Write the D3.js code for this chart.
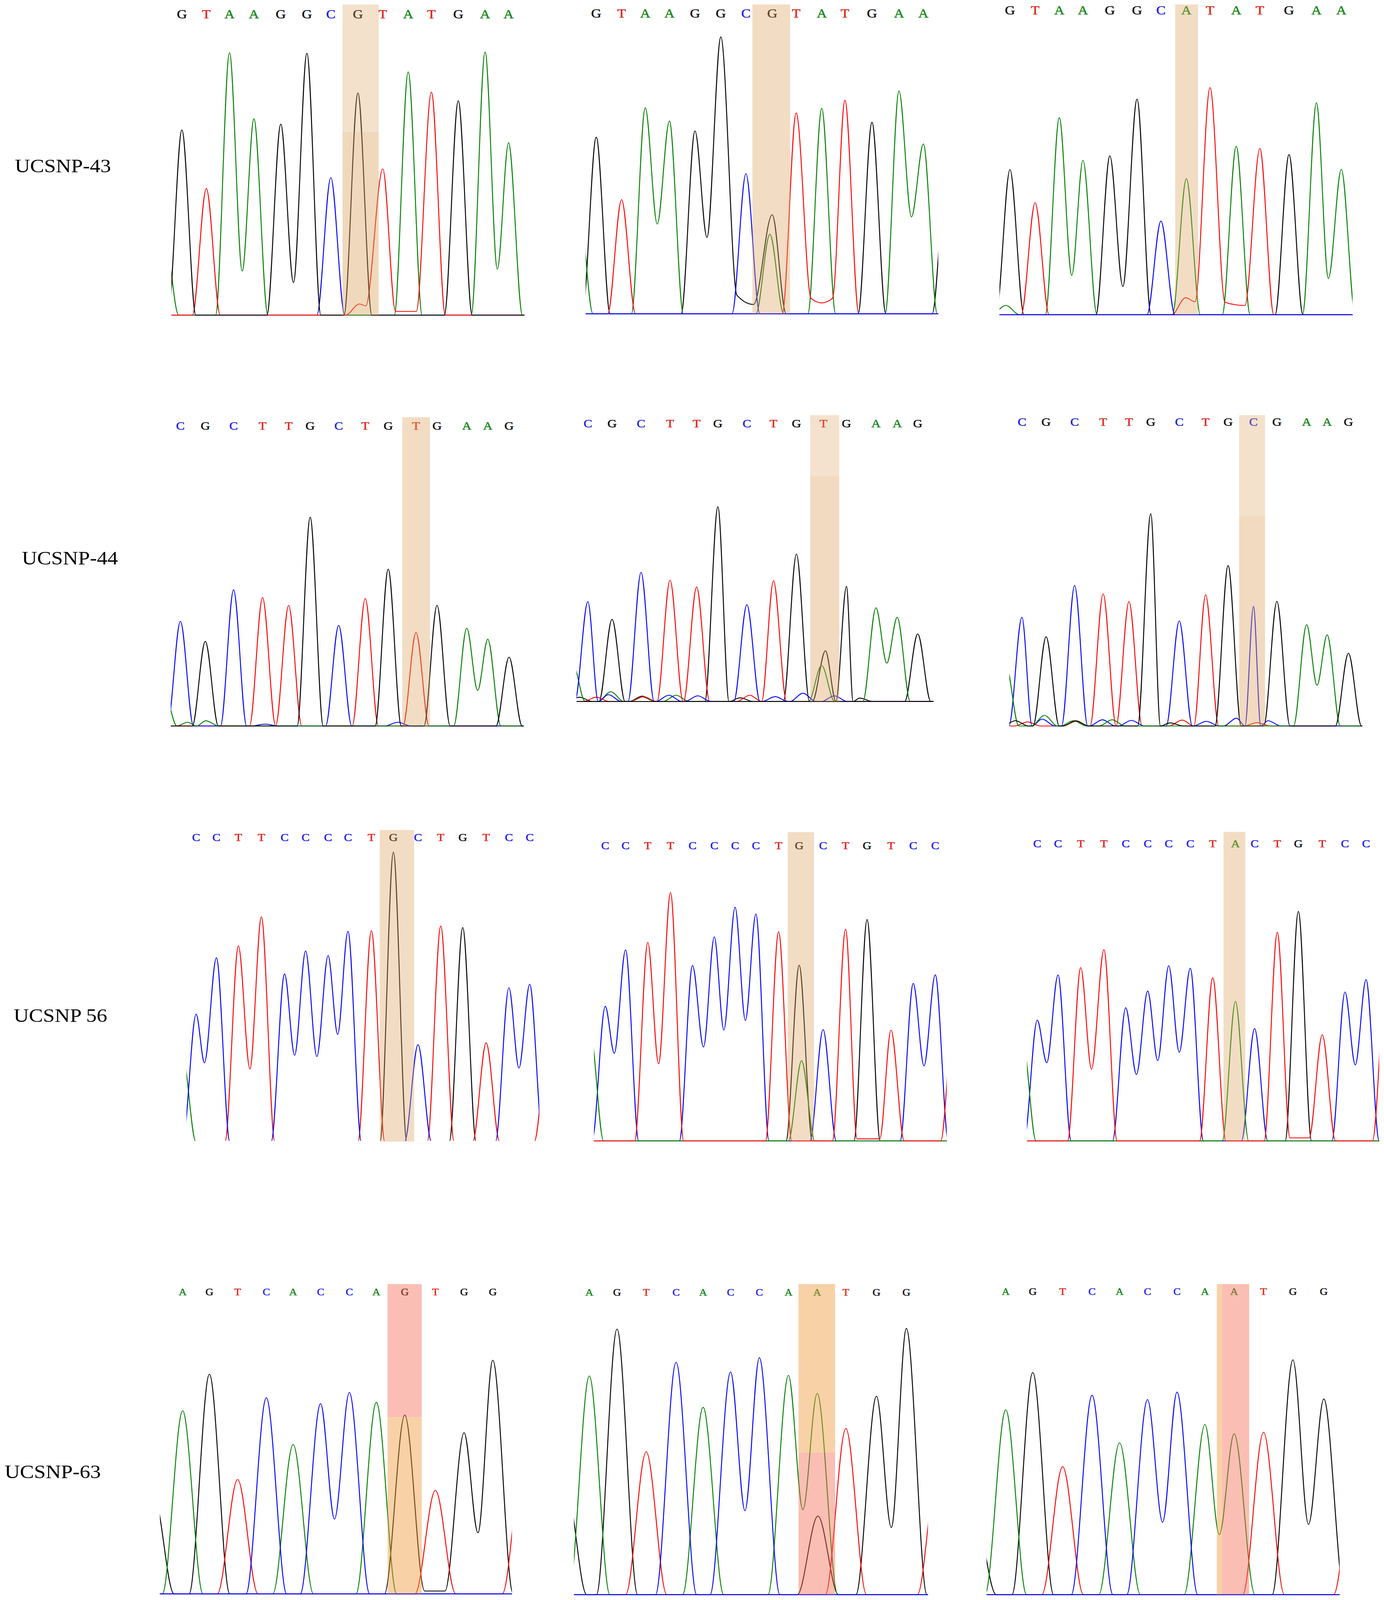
<!DOCTYPE html>
<html>
<head>
<meta charset="utf-8">
<script src="https://cdn.jsdelivr.net/npm/d3@7"></script>
<style>
  html, body { margin: 0; padding: 0; width: 100%; height: 100%; overflow: hidden; background: #fff; }
  svg { display: block; width: 100vw; height: 100vh; }
</style>
</head>
<body>
<svg id="fig"></svg>
<script>
// SNP names, one per row
var snpNames = ["UCSNP-43", "UCSNP-44", "UCSNP 56", "UCSNP-63"];

// ---- UCSNP-43 (three samples) ----
var bases43 = ["GTAAGGCGTATGAA", "GTAAGGCGTATGAA", "GTAAGGCATATGAA"];
var scan43 = [
  [105,205,300,400,510,617,715,826,928,1032,1127,1237,1347,1443],
  [92,198,297,398,505,613,718,828,928,1035,1132,1245,1358,1460],
  [87,188,285,380,488,597,693,795,890,995,1090,1207,1317,1417]
];
var height43 = [
  [59.6,40.8,84.5,63.2,61.5,84.3,44.3,71.5,47.1,78.3,71.8,69.0,84.7,55.5],
  [57.1,36.9,66.6,62.3,59.1,89.5,45.3,32.0,64.9,66.4,69.0,61.9,72.0,54.9],
  [46.8,36.1,63.5,49.8,51.2,69.5,30.2,43.9,73.2,54.3,53.6,51.6,68.3,46.9]
];
// extra peaks: [base, scan, height]
var extra43 = [
  [["A",35,25],["T",832,3.6]],
  [["A",20,35],["A",818,25.7],["G",1555,45]],
  [["A",70,3],["T",792,5.5]]
];
// valleys between peaks of one channel: [base, scan, height]
var valley43 = [
  [["A",352,14.2],["G",562,10.5],["T",858,3],["T",980,1.2],["T",1065,1.2],["A",1397,14.8]],
  [["A",347,29.0],["G",555,24.7],["G",680,6],["G",750,3],["T",990,5],["T",1035,3.5],["T",1080,5],["A",1410,31.3]],
  [["A",335,12.7],["G",540,9.1],["T",830,4.2],["T",950,4],["T",1030,3],["A",1365,11.7]]
];

// ---- UCSNP-44 ----
var bases44 = ["CGCTTGCTGTGAAG", "CGCTTGCTGTGAAG", "CGCTTGCTGCGAAG"];
var scan44 = [
  [100,203,320,440,548,637,755,865,960,1075,1162,1285,1372,1460],
  [105,205,325,445,555,643,763,873,968,1080,1175,1297,1385,1470],
  [107,207,325,443,550,640,758,867,960,1065,1162,1285,1370,1458]
];
var height44 = [
  [33.9,27.4,44.1,41.6,39.1,67.6,32.6,41.3,50.8,30.3,39.1,31.7,28.1,22.3],
  [34.9,28.7,45.1,42.4,40.0,68.0,33.8,42.2,51.5,null,40.2,32.7,29.4,23.6],
  [35.0,28.7,45.2,42.5,40.0,68.3,33.8,42.2,51.6,38.5,40.1,32.6,29.3,23.4]
];
var extra44 = [
  [["A",40,9],["A",130,1.2],["A",205,1.7],["C",450,0.6],["C",1000,1.2]],
  [["A",40,14],["G",70,1.5],["T",140,1.5],["C",190,2.4],["A",200,3.4],["A",330,1.6],["G",330,1.9],
   ["T",335,1.7],["C",440,2.2],["A",470,2.2],["C",560,2.0],["G",735,1.3],["T",775,2.2],["C",880,1.7],
   ["C",995,2.9],["A",1072,12.6],["G",1088,17.7],["C",1125,2.0],["G",1230,1.2]],
  [["A",40,20],["G",80,1.7],["T",130,1.3],["C",190,2.2],["A",200,3.4],["A",320,1.7],["G",330,1.7],
   ["T",330,1.5],["C",440,2.0],["A",480,2.0],["C",560,1.8],["G",720,1.0],["T",770,1.9],["C",870,1.5],
   ["C",995,2.5],["T",1080,1.1],["C",1125,1.7]]
];
var valley44 = [
  [["A",1330,11.5]],
  [["A",1342,13.4]],
  [["A",1328,13.1]]
];

// ---- UCSNP 56 ----
var bases56 = ["CCTTCCCCTGCTGTCC", "CCTTCCCCTGCTGTCC", "CCTTCCCCTACTGTCC"];
var scan56 = [
  [85,170,262,358,455,543,637,720,818,910,1013,1108,1200,1298,1393,1480],
  [97,182,275,370,462,553,640,727,822,908,1008,1102,1192,1292,1385,1477],
  [118,205,300,397,488,580,668,758,852,947,1027,1122,1210,1310,1405,1493]
];
var height56 = [
  [40.9,59.0,62.8,72.1,53.8,61.2,59.7,67.5,67.7,92.9,31.1,69.2,68.7,31.7,49.4,50.5],
  [43.6,61.9,64.3,80.4,56.8,66.1,75.7,73.5,67.7,56.9,36.1,68.6,71.7,35.9,51.0,53.8],
  [39.1,53.7,56.1,61.9,43.1,48.5,56.7,55.9,52.8,45.2,36.4,67.5,74.3,34.4,48.2,52.2]
];
var extra56 = [
  [["A",28,28],["T",1555,30]],
  [["A",35,35],["A",918,26.0],["T",1555,42]],
  [["A",58,32],["T",1575,50]]
];
var valley56 = [
  [["C",120,25.3],["T",310,23.3],["C",497,27.7],["C",590,27.3],["C",677,34.4],["C",1435,23.6]],
  [["C",135,28.4],["T",320,25.0],["C",508,30.4],["C",593,35.9],["C",683,39.0],["T",1150,0.7],["T",1245,0.7],["C",1430,24.3]],
  [["C",158,25.3],["T",345,23.2],["C",533,21.5],["C",622,26.0],["C",712,28.7],["T",1175,1.0],["T",1255,1.0],["C",1448,24.6]]
];

// ---- UCSNP-63 ----
var bases63 = ["AGTCACCAGTGG", "AGTCACCAATGG", "AGTCACCAATGG"];
var scan63 = [
  [143,255,373,493,605,720,840,953,1072,1200,1320,1440],
  [112,228,350,475,588,703,823,945,1065,1185,1313,1438],
  [122,235,360,483,598,715,838,955,1077,1200,1323,1452]
];
var height63 = [
  [59.1,70.9,36.9,63.3,48.2,61.4,65.0,61.8,57.7,33.4,52.0,75.4],
  [70.4,85.5,46.0,74.8,60.3,71.7,76.3,70.6,64.8,53.5,63.9,85.7],
  [59.5,71.5,41.2,64.2,48.9,62.8,65.2,54.8,51.8,52.3,75.6,63.0]
];
var extra63 = [
  [["G",22,32],["T",1565,42]],
  [["G",15,35],["G",1068,25.3],["T",1570,42]],
  [["G",-5,25],["T",1580,40]]
];
var valley63 = [
  [["C",778,24.1],["G",1155,0.9],["G",1240,0.9],["G",1378,19.7]],
  [["C",763,27.0],["A",1005,27.3],["G",1375,21.6]],
  [["C",778,23.3],["A",1015,19.3],["G",1388,22.6]]
];

var rows = [
  {bases: bases43, scan: scan43, height: height43, extra: extra43, valley: valley43},
  {bases: bases44, scan: scan44, height: height44, extra: extra44, valley: valley44},
  {bases: bases56, scan: scan56, height: height56, extra: extra56, valley: valley56},
  {bases: bases63, scan: scan63, height: height63, extra: extra63, valley: valley63}
];

// ---- layout (pixels of the 3543 x 4637 figure) ----
var W = 3543, H = 4637;
var TAN = "rgb(220,163,96)", PINK = "rgb(246,111,88)", ORANGE = "rgb(242,153,59)";

var labelPos = [{x: 38, y: 499}, {x: 56, y: 1636}, {x: 35, y: 2962}, {x: 12, y: 4284}];

// band: [scanFrom, scanTo, yFrom, yTo (null = panel top/base), colour, opacity]
var panels = [
  [
    {left: 438.8, right: 1342.5, top: 13, base: 913.4, letterY: 41.5, scan: [62,1508], w: 57, fs: 36,
     order: ["C","A","T","G"],
     bands: [[763,911,null,382.5,TAN,0.33],[763,911,382.5,null,TAN,0.42]]},
    {left: 1499.4, right: 2401.8, top: 13, base: 909.2, letterY: 38.6, scan: [48,1522], w: 58, fs: 36, axis: "#0000ff",
     bands: [[745,903,null,null,TAN,0.38]]},
    {left: 2558.7, right: 3462.5, top: 13, base: 912.2, letterY: 29.7, scan: [45,1462], w: 56, fs: 36, axis: "#0000ff",
     bands: [[750,842,null,null,TAN,0.37]]}
  ],
  [
    {left: 437.1, right: 1340.3, top: 1209.1, base: 2104.0, letterY: 1234.5, scan: [60,1520], w: 54, fs: 33,
     order: ["T","C","A","G"],
     bands: [[1018,1133,null,null,TAN,0.37]]},
    {left: 1475.9, right: 2389.6, top: 1203.0, base: 2033.1, letterY: 1227.3, scan: [58,1535], w: 54, fs: 33, axis: "#000000",
     bands: [[1025,1145,null,1380,TAN,0.31],[1025,1145,1380,null,TAN,0.40]]},
    {left: 2584.0, right: 3487.2, top: 1203.0, base: 2104.0, letterY: 1223.6, scan: [55,1515], w: 54, fs: 33,
     order: ["T","C","A","G"],
     bands: [[1006,1113,null,1495,TAN,0.33],[1006,1113,1495,null,TAN,0.40]]}
  ],
  [
    {left: 477.5, right: 1380.5, top: 2405.5, base: 3308.5, letterY: 2426.9, scan: [45,1520], w: 56, fs: 31, cut: true,
     bands: [[853,997,null,null,TAN,0.37]]},
    {left: 1520.6, right: 2423.6, top: 2411.6, base: 3306.7, letterY: 2451.4, scan: [50,1525], w: 55, fs: 31,
     order: ["G","C","A","T"],
     bands: [[860,970,null,null,TAN,0.37]]},
    {left: 2628.9, right: 3530.7, top: 2411.0, base: 3306.7, letterY: 2445.3, scan: [75,1548], w: 55, fs: 31,
     order: ["G","C","A","T"],
     bands: [[897,988,null,null,TAN,0.37]]}
  ],
  [
    {left: 409.4, right: 1310.5, top: 3721.4, base: 4619.0, letterY: 3744.4, scan: [48,1520], w: 85, fs: 28, axis: "#0000ff",
     bands: [[1000,1143,null,4106.8,PINK,0.45],[1000,1143,4106.8,null,ORANGE,0.45]]},
    {left: 1469.4, right: 2375.4, top: 3721.4, base: 4621.4, letterY: 3745.6, scan: [48,1528], w: 86, fs: 28, axis: "#0000ff",
     bands: [[987,1140,null,4209.4,ORANGE,0.45],[987,1140,4209.4,null,PINK,0.45]]},
    {left: 2525.7, right: 3429.3, top: 3721.4, base: 4621.4, letterY: 3743.2, scan: [42,1518], w: 87, fs: 28, axis: "#0000ff",
     bands: [[1005,1027,null,null,ORANGE,0.45],[1027,1140,null,null,PINK,0.45]]}
  ]
];

var traceColor = {A: "#008000", C: "#0000ff", G: "#000000", T: "#ff0000"};
var letterColor = {A: "#17881a", C: "#2222f0", G: "#111111", T: "#e3261b"};
var channelOrder = ["G", "A", "T", "C"];

var svg = d3.select("#fig")
  .attr("viewBox", "0 0 " + W + " " + H)
  .attr("preserveAspectRatio", "none")
  .style("font-family", "'Liberation Serif', 'Times New Roman', serif");
svg.append("rect").attr("width", W).attr("height", H).attr("fill", "#fff");
var defs = svg.append("defs");

// points of one channel trace: feet at baseline around peaks, valleys joined directly
function tracePoints(its, w, dom) {
  if (!its.length) return [[dom[0] - w, 0], [dom[1] + w, 0]];
  var pts = [];
  pts.push([Math.min(dom[0], its[0].x - w) - 20, 0]);
  its.forEach(function(it, i) {
    var prev = its[i - 1];
    if (!prev) {
      if (it.kind === "peak") pts.push([it.x - w, 0]);
    } else if (prev.kind === "peak" && it.kind === "peak") {
      var a = prev.x + w, b = it.x - w;
      if (a < b) { pts.push([a, 0]); pts.push([b, 0]); }
      else pts.push([(prev.x + it.x) / 2, 0]);
    }
    pts.push([it.x, it.h]);
  });
  var last = its[its.length - 1];
  if (last.kind === "peak") pts.push([last.x + w, 0]);
  pts.push([Math.max(dom[1], last.x + w) + 20, 0]);
  return pts;
}

function drawPanel(box, bases, scan, heights, extras, valleys, id) {
  var x = d3.scaleLinear().domain(box.scan).range([box.left, box.right]);
  var y = d3.scaleLinear().domain([0, 100]).range([box.base, box.top]);
  var g = svg.append("g");

  defs.append("clipPath").attr("id", id).append("rect")
    .attr("x", box.left).attr("y", box.top - 50)
    .attr("width", box.right - box.left)
    .attr("height", box.base - box.top + 50 + (box.cut ? -2 : 3));

  // called bases
  var letters = bases.split("");
  g.selectAll("text.base").data(letters).join("text")
    .attr("class", "base")
    .attr("x", function(d, i) { return x(scan[i]); })
    .attr("y", box.letterY + 0.33 * box.fs)
    .attr("text-anchor", "middle")
    .attr("font-size", box.fs)
    .attr("fill", function(d) { return letterColor[d]; })
    .attr("stroke", function(d) { return letterColor[d]; })
    .attr("stroke-width", 0.8)
    .text(function(d) { return d; });

  var items = [];
  letters.forEach(function(b, i) {
    if (heights[i] != null) items.push({b: b, x: scan[i], h: heights[i], kind: "peak"});
  });
  extras.forEach(function(e) { items.push({b: e[0], x: e[1], h: e[2], kind: "peak"}); });
  valleys.forEach(function(v) { items.push({b: v[0], x: v[1], h: v[2], kind: "valley"}); });

  var line = d3.line()
    .x(function(d) { return x(d[0]); })
    .y(function(d) { return y(d[1]); })
    .curve(d3.curveMonotoneX);

  var tg = g.append("g").attr("clip-path", "url(#" + id + ")");
  (box.order || channelOrder).forEach(function(ch) {
    var its = items.filter(function(d) { return d.b === ch; })
      .sort(function(a, b) { return a.x - b.x; });
    tg.append("path")
      .attr("d", line(tracePoints(its, box.w, box.scan)))
      .attr("fill", "none")
      .attr("stroke", traceColor[ch])
      .attr("stroke-width", 2.4)
      .attr("stroke-linejoin", "round");
  });

  if (box.axis) {
    g.append("line")
      .attr("x1", box.left).attr("x2", box.right)
      .attr("y1", box.base).attr("y2", box.base)
      .attr("stroke", box.axis).attr("stroke-width", 2.6);
  }

  // highlighted SNP position, laid over letters and traces
  box.bands.forEach(function(bd) {
    var y0 = bd[2] == null ? box.top : bd[2];
    var y1 = bd[3] == null ? box.base : bd[3];
    g.append("rect")
      .attr("x", x(bd[0])).attr("width", x(bd[1]) - x(bd[0]))
      .attr("y", y0).attr("height", y1 - y0)
      .attr("fill", bd[4]).attr("fill-opacity", bd[5]);
  });
}

rows.forEach(function(r, ri) {
  svg.append("text")
    .attr("x", labelPos[ri].x).attr("y", labelPos[ri].y)
    .attr("font-size", 54).attr("fill", "#000")
    .text(snpNames[ri]);
  for (var ci = 0; ci < 3; ci++) {
    drawPanel(panels[ri][ci], r.bases[ci], r.scan[ci], r.height[ci],
      r.extra[ci], r.valley[ci], "clip" + ri + ci);
  }
});
</script>
</body>
</html>
